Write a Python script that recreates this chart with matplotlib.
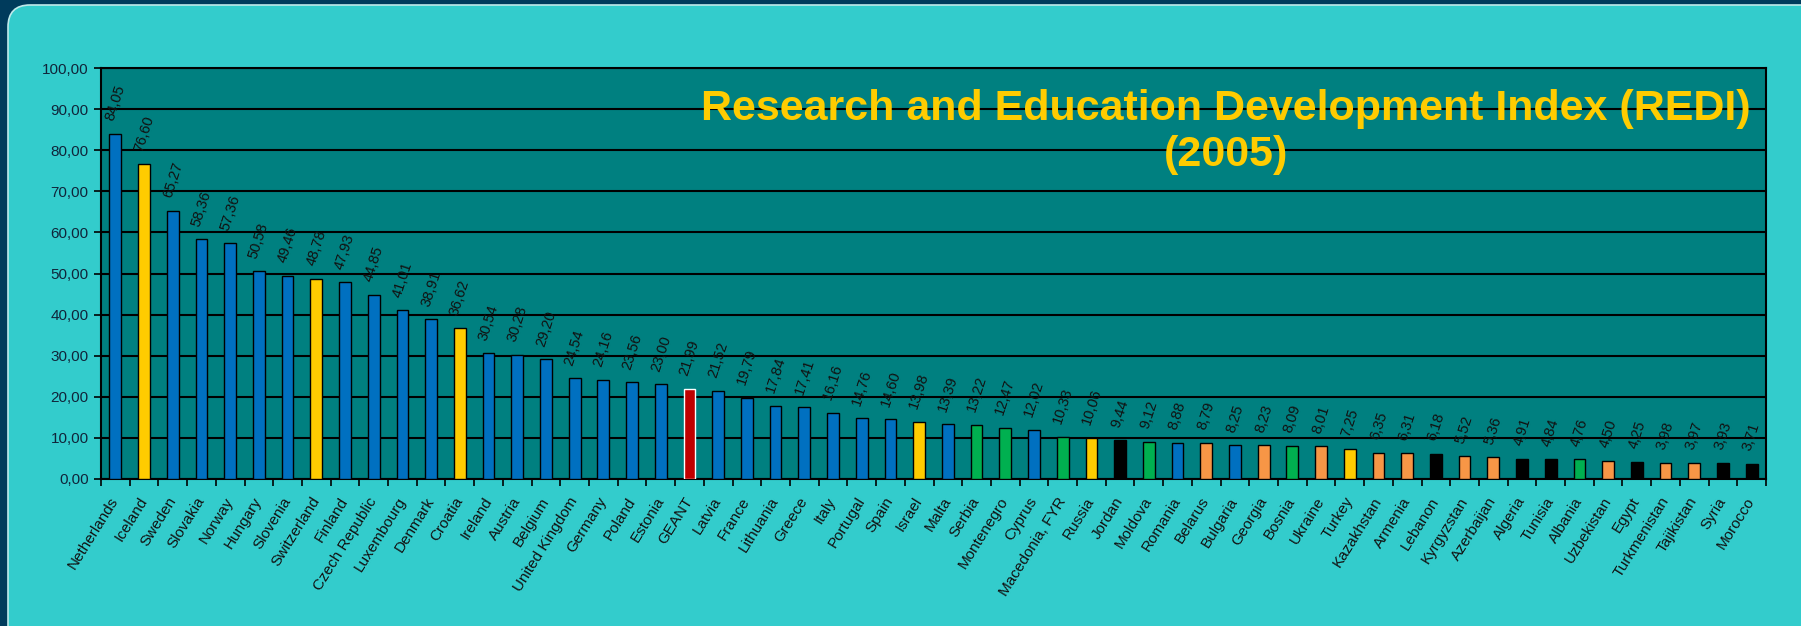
import matplotlib
matplotlib.use("Agg")
import matplotlib.pyplot as plt
from matplotlib.patches import FancyBboxPatch
from matplotlib.ticker import FixedLocator, FuncFormatter

# ── data ────────────────────────────────────────────────────────────────────
countries = [
    "Netherlands", "Iceland", "Sweden", "Slovakia", "Norway", "Hungary",
    "Slovenia", "Switzerland", "Finland", "Czech Republic", "Luxembourg",
    "Denmark", "Croatia", "Ireland", "Austria", "Belgium", "United Kingdom",
    "Germany", "Poland", "Estonia", "GEANT", "Latvia", "France", "Lithuania",
    "Greece", "Italy", "Portugal", "Spain", "Israel", "Malta", "Serbia",
    "Montenegro", "Cyprus", "Macedonia, FYR", "Russia", "Jordan", "Moldova",
    "Romania", "Belarus", "Bulgaria", "Georgia", "Bosnia", "Ukraine", "Turkey",
    "Kazakhstan", "Armenia", "Lebanon", "Kyrgyzstan", "Azerbaijan", "Algeria",
    "Tunisia", "Albania", "Uzbekistan", "Egypt", "Turkmenistan", "Tajikistan",
    "Syria", "Morocco",
]
redi = [
    84.05, 76.60, 65.27, 58.36, 57.36, 50.58, 49.46, 48.78, 47.93, 44.85,
    41.01, 38.91, 36.62, 30.54, 30.28, 29.20, 24.54, 24.16, 23.56, 23.00,
    21.99, 21.52, 19.79, 17.84, 17.41, 16.16, 14.76, 14.60, 13.98, 13.39,
    13.22, 12.47, 12.02, 10.33, 10.06, 9.44, 9.12, 8.88, 8.79, 8.25,
    8.23, 8.09, 8.01, 7.25, 6.35, 6.31, 6.18, 5.52, 5.36, 4.91,
    4.84, 4.76, 4.50, 4.25, 3.98, 3.97, 3.93, 3.71,
]
# group of each country (decides the bar colour)
groups = [
    "eu", "efta", "eu", "eu", "eu", "eu", "eu", "efta", "eu", "eu",
    "eu", "eu", "cand", "eu", "eu", "eu", "eu", "eu", "eu", "eu",
    "geant", "eu", "eu", "eu", "eu", "eu", "eu", "eu", "cand", "eu",
    "balk", "balk", "eu", "balk", "cand", "med", "balk", "eu", "cis", "eu",
    "cis", "balk", "cis", "cand", "cis", "cis", "med", "cis", "cis", "med",
    "med", "balk", "cis", "med", "cis", "cis", "med", "med",
]
group_colors = {
    "eu": "#0070C0",
    "efta": "#FFCC00",
    "cand": "#FFCC00",
    "geant": "#C00000",
    "balk": "#00B050",
    "med": "#000000",
    "cis": "#F79646",
}
y_ticks = list(range(0, 101, 10))
title = "Research and Education Development Index (REDI)\n(2005)"

# ── figure ──────────────────────────────────────────────────────────────────
plt.rcParams["font.family"] = ["Liberation Sans", "DejaVu Sans"]

fig = plt.figure(figsize=(18.01, 6.26), dpi=100, facecolor="#003B5C")

# turquoise rounded panel (inches, so the corners stay round)
panel = FancyBboxPatch((0.08, -0.3), 18.2, 6.51,
                       boxstyle="round,pad=0,rounding_size=0.22",
                       transform=fig.dpi_scale_trans,
                       facecolor="#33CCCC", edgecolor="#BFE9EA", lw=1.2,
                       zorder=-5)
fig.patches.append(panel)

ax = fig.add_axes([101 / 1801, 147 / 626, 1665 / 1801, 411 / 626])
ax.set_facecolor("#008080")

x = list(range(len(countries)))
colors = [group_colors[g] for g in groups]
edges = ["white" if g == "geant" else "black" for g in groups]
ax.bar(x, redi, width=0.41, color=colors, edgecolor=edges, linewidth=1.0,
       zorder=3)

for xi, v in zip(x, redi):
    ax.annotate(f"{v:.2f}".replace(".", ","), (xi, v), xytext=(0, 8),
                textcoords="offset points", ha="center", va="bottom",
                rotation=72, fontsize=10.5, color="#111111", zorder=4)

ax.set_xlim(-0.5, len(countries) - 0.5)
ax.set_ylim(0, 100)
ax.set_yticks(y_ticks)
ax.yaxis.set_major_formatter(FuncFormatter(lambda v, p: f"{v:.2f}".replace(".", ",")))
ax.tick_params(axis="y", length=5, width=1.2, direction="out", labelsize=11,
               labelcolor="#10253A", pad=4)
ax.grid(axis="y", color="black", lw=1.5, zorder=1)

ax.set_xticks(x)
ax.set_xticklabels(countries, rotation=58, ha="right", va="center",
                   rotation_mode="anchor", fontsize=11, color="#111111")
ax.tick_params(axis="x", which="major", length=0, pad=14)
ax.xaxis.set_minor_locator(FixedLocator([i - 0.5 for i in range(len(countries) + 1)]))
ax.tick_params(axis="x", which="minor", length=5, width=1.2, direction="out")

for s in ax.spines.values():
    s.set_color("black")
    s.set_linewidth(1.5)

fig.text(1226 / 1801, 1 - 132 / 626, title, ha="center", va="center",
         fontsize=31, fontweight="bold", color="#FFCC00", linespacing=1.22)

fig.savefig("out.png", dpi=100, facecolor=fig.get_facecolor())
